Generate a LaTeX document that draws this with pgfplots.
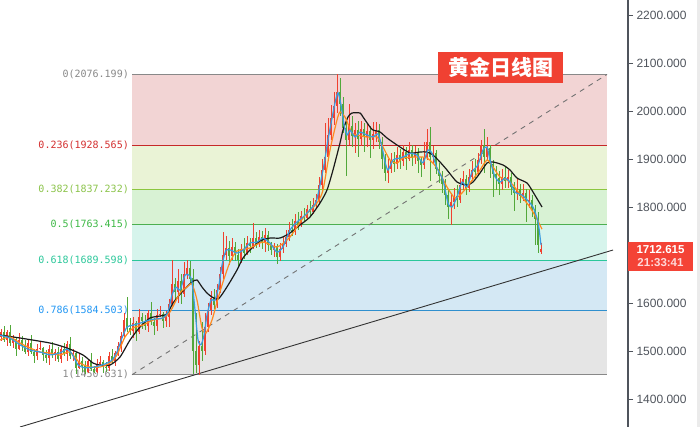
\documentclass[border=0pt]{standalone}
\usepackage{pgfplots}
\usepackage{pgfplotstable}
\pgfplotsset{compat=1.18}
\usepackage{fontspec}
\setmainfont{Liberation Sans}
\newfontfamily\monofont{DejaVu Sans Mono}
\newfontfamily\cjk{Noto Sans CJK SC}
\definecolor{upred}{HTML}{F0402F}
\definecolor{dngreen}{HTML}{52A83A}
\definecolor{maBlue}{HTML}{3A9BE0}
\definecolor{maOrange}{HTML}{FF8A1F}
\definecolor{maBlack}{HTML}{1A1A1A}
\definecolor{bandA}{HTML}{F2D4D4}
\definecolor{bandB}{HTML}{EAF3D6}
\definecolor{bandC}{HTML}{D8F2D4}
\definecolor{bandD}{HTML}{D6F4EC}
\definecolor{bandE}{HTML}{D4E8F4}
\definecolor{bandF}{HTML}{E5E5E5}
\definecolor{lvGrey}{HTML}{888888}
\definecolor{lvRed}{HTML}{C62828}
\definecolor{lvYG}{HTML}{8CC63F}
\definecolor{lvGreen}{HTML}{4CAF50}
\definecolor{lvTeal}{HTML}{2BC79A}
\definecolor{lvBlue}{HTML}{2F8FCE}
\definecolor{txRed}{HTML}{D32F2F}
\definecolor{txYG}{HTML}{8BC34A}
\definecolor{txGreen}{HTML}{3DB845}
\definecolor{txTeal}{HTML}{2BC79A}
\definecolor{txBlue}{HTML}{2196F3}
\definecolor{tickgrey}{HTML}{4F545C}
\definecolor{boxred}{HTML}{F44336}
\definecolor{titlered}{HTML}{F04132}

\pgfplotstableread{
x o h l c
1 1530 1546 1521 1540
4 1540 1552 1519 1524
7 1524 1544 1510 1539
10 1539 1554 1511 1517
13 1517 1534 1506 1525
16 1525 1528 1490 1505
19 1505 1538 1502 1524
22 1524 1532 1500 1512
25 1512 1523 1493 1499
28 1499 1522 1490 1517
31 1517 1534 1493 1498
34 1498 1504 1475 1489
37 1489 1514 1481 1505
40 1505 1518 1502 1506
43 1506 1509 1480 1492
46 1492 1503 1476 1485
49 1485 1512 1470 1504
52 1504 1519 1486 1491
55 1491 1504 1480 1499
58 1499 1508 1478 1484
61 1484 1511 1475 1505
64 1505 1517 1489 1494
67 1494 1520 1480 1515
70 1515 1530 1484 1490
73 1490 1504 1479 1495
76 1495 1498 1452 1465
79 1465 1494 1462 1480
82 1480 1488 1457 1469
85 1469 1480 1453 1457
88 1457 1484 1455 1479
91 1479 1496 1458 1463
94 1463 1469 1454 1456
97 1456 1483 1455 1474
100 1474 1490 1471 1478
103 1478 1481 1455 1467
106 1467 1478 1456 1465
109 1465 1497 1458 1489
112 1489 1504 1474 1479
115 1479 1500 1468 1495
118 1495 1519 1489 1510
121 1510 1540 1498 1532
124 1532 1580 1526 1565
127 1568 1612 1540 1548
130 1548 1568 1533 1541
133 1541 1570 1527 1558
136 1558 1562 1520 1540
139 1540 1588 1536 1570
142 1570 1580 1546 1562
145 1562 1576 1544 1552
148 1552 1586 1540 1580
151 1580 1602 1555 1561
154 1561 1569 1534 1552
157 1552 1587 1542 1575
160 1575 1594 1571 1578
163 1578 1582 1547 1563
166 1563 1584 1551 1570
169 1570 1609 1550 1599
172 1599 1690 1594 1640
175 1640 1652 1608 1622
178 1622 1670 1600 1645
181 1645 1660 1598 1618
184 1618 1685 1612 1660
187 1660 1690 1650 1672
190 1672 1688 1640 1650
193 1652 1670 1452 1500
196 1500 1580 1455 1470
199 1470 1520 1450.631 1510
202 1510 1560 1480 1500
205 1500 1580 1492 1550
208 1550 1600 1540 1585
211 1585 1625 1575 1610
214 1610 1630 1588 1596
217 1596 1640 1590 1628
220 1628 1676 1620 1660
223 1660 1748 1650 1700
226 1700 1740 1690 1715
229 1715 1730 1680 1698
232 1698 1735 1690 1716
235 1716 1728 1688 1700
238 1700 1712 1676 1690
241 1690 1722 1684 1712
244 1712 1735 1692 1705
247 1705 1740 1700 1726
250 1726 1736 1705 1718
253 1718 1766 1712 1735
256 1735 1748 1714 1722
259 1722 1752 1716 1738
262 1738 1750 1712 1728
265 1728 1756 1706 1742
268 1742 1750 1708 1720
271 1720 1728 1700 1710
274 1710 1726 1696 1718
277 1718 1722 1682 1695
280 1695 1724 1688 1712
283 1712 1740 1704 1722
286 1722 1752 1716 1738
289 1738 1768 1730 1752
292 1752 1776 1740 1748
295 1748 1786 1742 1770
298 1770 1790 1752 1765
301 1765 1792 1758 1782
304 1782 1798 1770 1778
307 1778 1805 1772 1795
310 1795 1812 1782 1790
313 1790 1818 1785 1805
316 1805 1828 1798 1815
319 1815 1862 1808 1845
322 1845 1900 1838 1878
325 1878 1975 1870 1905
328 1905 1985 1895 1950
331 1950 2012 1940 1985
334 1985 2040 1970 2010
337 2010 2076.199 1995 2040
340 2040 2068 1990 2015
343 2015 2030 1955 1965
346 1965 1978 1865 1940
349 1940 2015 1930 1968
352 1968 1990 1925 1948
355 1948 1975 1912 1960
358 1960 1980 1905 1942
361 1942 1980 1928 1962
364 1962 1975 1915 1945
367 1945 1972 1925 1958
370 1958 1968 1902 1940
373 1940 1978 1920 1952
376 1952 1978 1935 1960
379 1960 1972 1920 1935
382 1935 1945 1880 1900
385 1900 1910 1855 1870
388 1870 1900 1850 1880
391 1880 1912 1870 1895
394 1895 1915 1872 1890
397 1890 1925 1880 1908
400 1908 1920 1880 1895
403 1895 1930 1885 1915
406 1915 1925 1878 1900
409 1900 1935 1895 1918
412 1918 1930 1885 1905
415 1905 1928 1890 1915
418 1915 1922 1870 1895
421 1895 1905 1862 1888
424 1888 1935 1880 1905
427 1905 1962 1898 1935
430 1935 1967 1855 1905
433 1905 1928 1890 1912
436 1912 1918 1868 1880
439 1880 1892 1850 1865
442 1865 1875 1830 1848
445 1848 1858 1805 1825
448 1825 1835 1775 1800
451 1800 1830 1762 1810
454 1810 1840 1795 1822
457 1822 1845 1800 1815
460 1815 1860 1808 1845
463 1845 1875 1835 1858
466 1858 1866 1825 1840
469 1840 1880 1832 1862
472 1862 1895 1855 1878
475 1878 1900 1860 1872
478 1872 1912 1866 1898
481 1898 1940 1890 1930
484 1930 1962 1870 1905
487 1905 1945 1895 1922
490 1922 1930 1860 1890
493 1890 1898 1820 1868
496 1868 1885 1835 1860
499 1860 1875 1825 1848
502 1848 1880 1835 1862
505 1862 1885 1840 1855
508 1855 1878 1840 1862
511 1862 1870 1825 1842
514 1842 1852 1792 1830
517 1830 1858 1815 1838
520 1838 1848 1808 1822
523 1822 1848 1812 1830
526 1830 1838 1768 1810
529 1810 1835 1798 1815
532 1815 1825 1780 1795
535 1795 1805 1720 1775
538 1775 1790 1705 1720
541 1706 1726 1702 1712.615
}\candles

\begin{document}
\begin{tikzpicture}
\useasboundingbox (0,0) rectangle (700pt,427pt);
\fill[black!8] (697pt,0) rectangle (700pt,427pt);
\begin{axis}[
  at={(0,0)}, anchor=south west,
  scale only axis, width=628pt, height=427pt,
  xmin=0, xmax=628, ymin=1341.75, ymax=2231.25,
  axis x line=none, axis y line*=right,
  clip=false,
  ytick={1400,1500,1600,1700,1800,1900,2000,2100,2200},
  yticklabels={1400.000,1500.000,1600.000,,1800.000,1900.000,2000.000,2100.000,2200.000},
  tick align=outside, major tick length=5pt,
  y axis line style={draw=tickgrey, line width=1.1pt},
  ytick style={draw=tickgrey, line width=0.8pt},
  yticklabel style={font=\fontsize{12}{12}\selectfont, text=tickgrey},
  /pgf/number format/assume math mode=true,
]
% Fibonacci bands
\addplot[fill=bandA, draw=none] coordinates {(132,1928.565) (607,1928.565) (607,2076.199) (132,2076.199)} -- cycle;
\addplot[fill=bandB, draw=none] coordinates {(132,1837.232) (607,1837.232) (607,1928.565) (132,1928.565)} -- cycle;
\addplot[fill=bandC, draw=none] coordinates {(132,1763.415) (607,1763.415) (607,1837.232) (132,1837.232)} -- cycle;
\addplot[fill=bandD, draw=none] coordinates {(132,1689.598) (607,1689.598) (607,1763.415) (132,1763.415)} -- cycle;
\addplot[fill=bandE, draw=none] coordinates {(132,1584.503) (607,1584.503) (607,1689.598) (132,1689.598)} -- cycle;
\addplot[fill=bandF, draw=none] coordinates {(132,1450.631) (607,1450.631) (607,1584.503) (132,1584.503)} -- cycle;
% level lines
\addplot[lvGrey, line width=1pt] coordinates {(132,2076.199) (607,2076.199)};
\addplot[lvRed, line width=1pt] coordinates {(132,1928.565) (607,1928.565)};
\addplot[lvYG, line width=1pt] coordinates {(132,1837.232) (607,1837.232)};
\addplot[lvGreen, line width=1pt] coordinates {(132,1763.415) (607,1763.415)};
\addplot[lvTeal, line width=1pt] coordinates {(132,1689.598) (607,1689.598)};
\addplot[lvBlue, line width=1pt] coordinates {(132,1584.503) (607,1584.503)};
\addplot[lvGrey, line width=1pt] coordinates {(132,1450.631) (607,1450.631)};
% level labels
\begin{scope}[every node/.style={anchor=east, inner sep=0pt, font=\monofont\fontsize{10}{10}\selectfont}]
\node[text=lvGrey] at (axis cs:129,2076.199) {0(2076.199)};
\node[text=txRed] at (axis cs:129,1928.565) {0.236(1928.565)};
\node[text=txYG] at (axis cs:129,1837.232) {0.382(1837.232)};
\node[text=txGreen] at (axis cs:129,1763.415) {0.5(1763.415)};
\node[text=txTeal] at (axis cs:129,1689.598) {0.618(1689.598)};
\node[text=txBlue] at (axis cs:129,1584.503) {0.786(1584.503)};
\node[text=lvGrey] at (axis cs:129,1450.631) {1(1450.631)};
\end{scope}
% trend lines
\addplot[color=black!55, line width=0.9pt, dash pattern=on 5pt off 5pt] coordinates {(132,1450.631) (607,2076.199)};
\addplot[color=black!80, line width=0.9pt] coordinates {(20,1341.75) (613,1710.4)};
% candles: wicks and bodies
\addplot[draw=none, mark=none, x filter/.expression={\thisrow{c}>=\thisrow{o} ? x : nan},
  error bars/.cd, y dir=both, y explicit, error mark=none,
  error bar style={draw=upred, line width=0.8pt}]
  table[x=x, y expr={0.5*(\thisrow{h}+\thisrow{l})}, y error expr={0.5*(\thisrow{h}-\thisrow{l})}] {\candles};
\addplot[draw=none, mark=none, x filter/.expression={\thisrow{c}>=\thisrow{o} ? x : nan},
  error bars/.cd, y dir=both, y explicit, error mark=none,
  error bar style={draw=upred, line width=1.9pt}]
  table[x=x, y expr={0.5*(\thisrow{o}+\thisrow{c})}, y error expr={0.5*abs(\thisrow{c}-\thisrow{o})}] {\candles};
\addplot[draw=none, mark=none, x filter/.expression={\thisrow{c}<\thisrow{o} ? x : nan},
  error bars/.cd, y dir=both, y explicit, error mark=none,
  error bar style={draw=dngreen, line width=0.8pt}]
  table[x=x, y expr={0.5*(\thisrow{h}+\thisrow{l})}, y error expr={0.5*(\thisrow{h}-\thisrow{l})}] {\candles};
\addplot[draw=none, mark=none, x filter/.expression={\thisrow{c}<\thisrow{o} ? x : nan},
  error bars/.cd, y dir=both, y explicit, error mark=none,
  error bar style={draw=dngreen, line width=1.9pt}]
  table[x=x, y expr={0.5*(\thisrow{o}+\thisrow{c})}, y error expr={0.5*abs(\thisrow{c}-\thisrow{o})}] {\candles};
% moving averages
\addplot[maBlack, line width=1.2pt, smooth, tension=0.4] coordinates {
(0,1533.3)(20,1527.1)(50,1516.7)(67,1506.3)(83,1491.7)(93,1475)(100,1470.8)(110,1470.8)(120,1487.5)(130,1522.9)(140,1550)(150,1568.8)(160,1572.9)(167,1577.1)(173,1600)(182,1622.9)(192,1643.8)(197,1647.9)(202,1633.3)(207,1620.8)(212,1612.5)(218,1608.3)(223,1620.8)(230,1643.8)(237,1668.8)(243,1693.8)(250,1710.4)(260,1729.2)(270,1735.4)(280,1735.4)(290,1745.8)(300,1762.5)(310,1779.2)(320,1808.3)(327,1835.4)(333,1877.1)(340,1933.3)(343,1960.4)(348,1987.5)(352,1995.8)(360,1995.8)(363,1987.5)(370,1966.7)(373,1960.4)(380,1956.3)(387,1943.8)(397,1929.2)(410,1912.5)(420,1914.6)(427,1914.6)(433,1908.3)(440,1893.8)(447,1877.1)(457,1852.1)(467,1845.8)(473,1852.1)(480,1870.8)(487,1891.7)(493,1893.8)(503,1887.5)(510,1877.1)(517,1860.4)(527,1850)(533,1831.3)(542,1800)};
\addplot[maOrange, line width=1.2pt, smooth, tension=0.4] coordinates {
(0,1523)(10,1529.2)(20,1516.7)(30,1506.3)(40,1497.9)(50,1495.8)(60,1491.7)(70,1497.9)(80,1475)(90,1466.7)(100,1466.7)(110,1475)(117,1491.7)(125,1529.2)(133,1547.9)(143,1554.2)(153,1564.6)(163,1568.8)(170,1581.3)(180,1620.8)(187,1633.3)(192,1639.6)(197,1606.3)(202,1547.9)(206,1537.5)(212,1564.6)(217,1602.1)(223,1643.8)(230,1685.4)(237,1708.3)(250,1714.6)(263,1727.1)(277,1716.7)(290,1737.5)(303,1777.1)(317,1808.3)(323,1835.4)(330,1918.8)(337,1981.3)(340,1997.9)(345,1987.5)(352,1954.2)(357,1950)(367,1945.8)(377,1945.8)(383,1925)(390,1897.9)(397,1891.7)(403,1902.1)(417,1904.2)(427,1902.1)(437,1881.3)(447,1841.7)(455,1818.8)(462,1829.2)(470,1850)(480,1877.1)(487,1897.9)(493,1883.3)(500,1862.5)(507,1856.3)(513,1845.8)(522,1820.8)(530,1799.6)(537,1774.6)(542,1753.8)};
\addplot[maBlue, line width=1.2pt, smooth, tension=0.4] coordinates {
(0,1533)(10,1527)(20,1513)(30,1502)(40,1498)(50,1492)(60,1496)(67,1504)(72,1494)(78,1471)(85,1465)(95,1467)(105,1473)(112,1481)(117,1498)(122,1527)(127,1550)(133,1554)(140,1558)(150,1565)(157,1567)(163,1569)(168,1581)(172,1617)(176,1633)(180,1627)(185,1658)(189,1658)(192,1644)(195,1585)(198,1523)(201,1513)(204,1533)(207,1575)(211,1606)(215,1606)(219,1638)(222,1679)(226,1710)(231,1710)(237,1704)(243,1710)(250,1725)(257,1727)(263,1735)(270,1725)(277,1706)(283,1717)(290,1752)(297,1769)(303,1779)(310,1794)(316,1810)(320,1846)(324,1888)(328,1940)(332,1985)(335,2017)(338,2038)(341,2013)(344,1971)(347,1950)(350,1960)(355,1946)(360,1956)(367,1950)(373,1946)(378,1952)(382,1925)(385,1894)(388,1877)(393,1898)(400,1902)(405,1906)(410,1912)(417,1908)(423,1892)(428,1919)(432,1912)(437,1881)(443,1856)(448,1808)(452,1800)(457,1821)(462,1852)(467,1842)(472,1873)(478,1888)(483,1919)(487,1925)(490,1898)(495,1863)(500,1852)(505,1860)(510,1852)(515,1831)(522,1825)(527,1815)(533,1800)(538,1769)(541,1721)};
% title box
\node[fill=titlered, text=white, inner sep=0pt, minimum width=125pt, minimum height=31pt,
  font=\cjk\bfseries\fontsize{21}{21}\selectfont] at (axis cs:500.5,2090.6) {黄金日线图};
% current price box
\node[fill=boxred, text=white, inner sep=0pt, minimum width=65pt, minimum height=29pt, align=center,
  font=\bfseries\fontsize{11.5}{13}\selectfont] at (axis cs:660.5,1696.9) {1712.615\\{\color{red!15}21:33:41}};
\end{axis}
\end{tikzpicture}
\end{document}
